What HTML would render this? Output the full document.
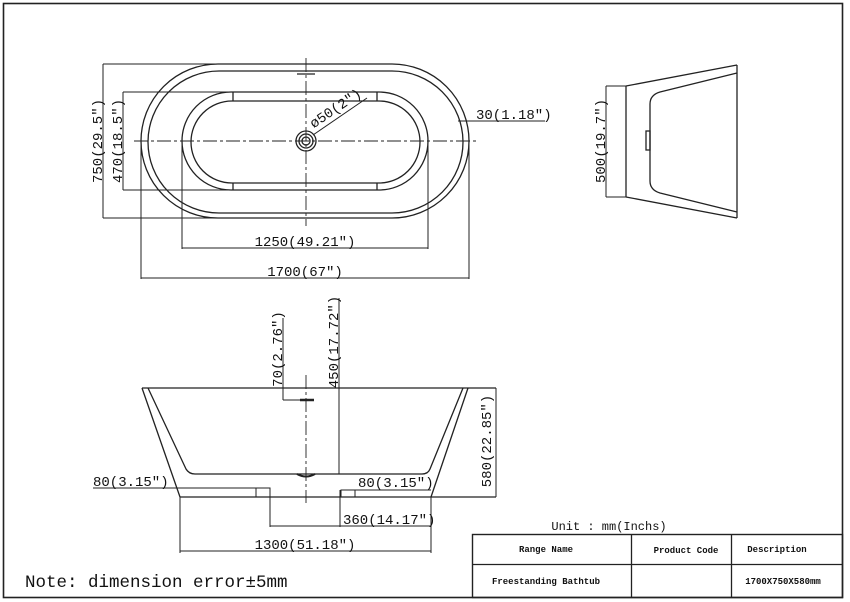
<!DOCTYPE html>
<html><head><meta charset="utf-8"><style>
html,body{margin:0;padding:0;background:#fff;}
svg{display:block;}
text{font-family:"Liberation Mono","DejaVu Sans Mono",monospace;fill:#111;}
</style></head><body>
<svg width="850" height="602" viewBox="0 0 850 602" xmlns="http://www.w3.org/2000/svg">
<g fill="none" stroke="#222" stroke-width="1.3">
<!-- frame -->
<rect x="3.5" y="3.5" width="839" height="594" stroke-width="1.6"/>
<!-- table -->
<rect x="472.5" y="534.5" width="370" height="63" stroke-width="1.4"/>
<line x1="472" y1="564.5" x2="843" y2="564.5"/>
<line x1="631.5" y1="534" x2="631.5" y2="597"/>
<line x1="731.5" y1="534" x2="731.5" y2="597"/>

<!-- TOP VIEW -->
<rect x="141" y="64" width="328" height="154" rx="77" ry="77"/>
<rect x="148" y="71" width="315" height="142" rx="71" ry="71"/>
<rect x="182" y="92" width="246" height="98" rx="49" ry="49"/>
<rect x="191" y="101" width="229" height="82" rx="41" ry="41"/>
<line x1="233" y1="92" x2="233" y2="101"/><line x1="377" y1="92" x2="377" y2="101"/>
<line x1="233" y1="183" x2="233" y2="190"/><line x1="377" y1="183" x2="377" y2="190"/>
<circle cx="306" cy="141" r="10"/><circle cx="306" cy="141" r="7"/><circle cx="306" cy="141" r="4"/>
<line x1="313" y1="135" x2="367" y2="98" stroke-width="1"/>
<g stroke-width="0.9" stroke-dasharray="14,3,3,3">
<line x1="134" y1="141" x2="478" y2="141"/>
<line x1="306" y1="58" x2="306" y2="226"/>
</g>
<line x1="297" y1="74" x2="315" y2="74"/>
<!-- dims top -->
<g stroke-width="1">
<line x1="103" y1="64" x2="103" y2="218"/>
<line x1="103" y1="64" x2="230" y2="64"/><line x1="103" y1="218" x2="230" y2="218"/>
<line x1="123" y1="92" x2="123" y2="190"/>
<line x1="123" y1="92" x2="233" y2="92"/><line x1="123" y1="190" x2="233" y2="190"/>
<line x1="182" y1="141" x2="182" y2="249"/><line x1="428" y1="141" x2="428" y2="249"/>
<line x1="182" y1="248" x2="428" y2="248"/>
<line x1="141" y1="141" x2="141" y2="279"/><line x1="469" y1="141" x2="469" y2="279"/>
<line x1="141" y1="278" x2="469" y2="278"/>
<line x1="458" y1="121" x2="545" y2="121"/>
</g>

<!-- SIDE VIEW -->
<line x1="626" y1="86" x2="626" y2="197"/>
<line x1="626" y1="86" x2="737" y2="65"/>
<line x1="626" y1="197" x2="737" y2="218"/>
<line x1="737" y1="65" x2="737" y2="218"/>
<path d="M737 73 L660 92 Q650 95 650 104 L650 181 Q650 190 660 193 L737 212"/>
<rect x="646" y="131" width="4" height="19"/>
<g stroke-width="1">
<line x1="606" y1="86" x2="606" y2="197"/>
<line x1="606" y1="86" x2="626" y2="86"/><line x1="606" y1="197" x2="626" y2="197"/>
</g>

<!-- FRONT VIEW -->
<line x1="142" y1="388" x2="496" y2="388"/>
<line x1="142" y1="388" x2="180" y2="497"/>
<line x1="468" y1="388" x2="431" y2="497"/>
<line x1="180" y1="497" x2="496" y2="497"/>
<path d="M148 388 L186 469 Q189 474 195 474 L422 474 Q428 474 430 469 L463 388"/>
<path d="M297 474 Q306 479 315 474" stroke-width="2"/>
<g stroke-width="0.9" stroke-dasharray="14,3,3,3">
<line x1="306" y1="375" x2="306" y2="503"/>
</g>
<g stroke-width="1">
<line x1="283" y1="318" x2="283" y2="400"/>
<line x1="283" y1="400" x2="300" y2="400"/>
<line x1="300" y1="400" x2="314" y2="400" stroke-width="2.5"/>
<line x1="339" y1="298" x2="339" y2="474"/>
<line x1="496" y1="388" x2="496" y2="497"/>
<line x1="93" y1="488" x2="270" y2="488"/>
<rect x="256" y="488" width="14" height="9"/>
<line x1="270" y1="488" x2="270" y2="527"/>
<rect x="341" y="490" width="14" height="7"/>
<line x1="341" y1="490" x2="431" y2="490"/>
<line x1="340" y1="490" x2="340" y2="527"/>
<line x1="270" y1="526" x2="431" y2="526"/>
<line x1="431" y1="497" x2="431" y2="553"/>
<line x1="180" y1="497" x2="180" y2="553"/>
<line x1="180" y1="551" x2="431" y2="551"/>
</g>
</g>

<!-- labels -->
<g font-size="14">
<text x="97" y="141" text-anchor="middle" transform="rotate(-90 97 141)" dy="5">750(29.5″)</text>
<text x="117" y="141" text-anchor="middle" transform="rotate(-90 117 141)" dy="5">470(18.5″)</text>
<text x="305" y="246" text-anchor="middle">1250(49.21″)</text>
<text x="305" y="276" text-anchor="middle">1700(67″)</text>
<text x="476" y="119">30(1.18″)</text>
<text x="338" y="112" text-anchor="middle" transform="rotate(-34 338 112)">ø50(2″)</text>
<text x="600" y="141" text-anchor="middle" transform="rotate(-90 600 141)" dy="5">500(19.7″)</text>
<text x="277" y="349" text-anchor="middle" transform="rotate(-90 277 349)" dy="5">70(2.76″)</text>
<text x="333" y="342" text-anchor="middle" transform="rotate(-90 333 342)" dy="5">450(17.72″)</text>
<text x="486" y="441" text-anchor="middle" transform="rotate(-90 486 441)" dy="5">580(22.85″)</text>
<text x="93" y="486">80(3.15″)</text>
<text x="358" y="487">80(3.15″)</text>
<text x="343" y="524">360(14.17″)</text>
<text x="305" y="549" text-anchor="middle">1300(51.18″)</text>
</g>
<text x="609" y="530" font-size="12" text-anchor="middle">Unit : mm(Inchs)</text>
<g font-size="9" font-weight="bold" text-anchor="middle">
<text x="546" y="552">Range Name</text>
<text x="686" y="553">Product Code</text>
<text x="777" y="552">Description</text>
<text x="546" y="584">Freestanding Bathtub</text>
<text x="783" y="584">1700X750X580mm</text>
</g>
<text x="25" y="587" font-size="17.5">Note: dimension error±5mm</text>
</svg>
</body></html>
